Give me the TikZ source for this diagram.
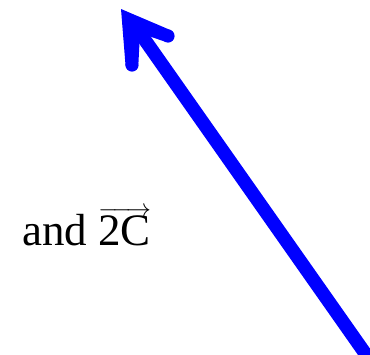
\documentclass[tikz,border=0pt]{standalone}
\usepackage{fontspec}
\setmainfont{Liberation Serif}
\begin{document}
\begin{tikzpicture}[x=1pt,y=-1pt,
  lbl/.style={inner sep=0pt,anchor=base west,font=\fontsize{45}{50}\selectfont}]
\useasboundingbox (0,0) rectangle (370,354);
\clip (0,0) rectangle (370,354);
% arrow geometry
\coordinate (tip) at (121,9);
\coordinate (notch) at (140,33);
\coordinate (tail) at (374,366);
\coordinate (Rc) at (168,36);
\coordinate (Lc) at (132,65);
\draw[blue,line width=13.5pt] (notch) -- (tail);
\fill[blue] (tip) -- (171.2,30.4) -- (164.8,41.6) -- (notch) -- (138.4,63.7) -- (125.6,66.3) -- cycle;
\fill[blue] (Rc) circle (6.6);
\fill[blue] (Lc) circle (6.6);
\node[lbl] (t) at (22,245) {and $\overrightarrow{\mbox{2C}}$};
\end{tikzpicture}
\end{document}
